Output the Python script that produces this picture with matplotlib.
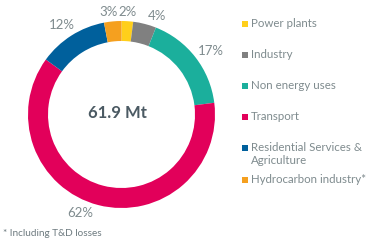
import matplotlib.pyplot as plt
from matplotlib.patches import Rectangle

# ---- Data ----
categories = ['Power plants', 'Industry', 'Non energy uses', 'Transport',
              'Residential Services &\nAgriculture', 'Hydrocarbon industry*']
shares = [2, 4, 17, 62, 12, 3]
colors = ['#FFCF1B', '#808080', '#1BAF9C', '#E2005A', '#00609C', '#F5A01F']
total_label = '61.9 Mt'
footnote = '* Including T&D losses'

W, H = 378, 246
fig = plt.figure(figsize=(W / 100, H / 100), dpi=100)
ax = fig.add_axes([0, 0, 1, 1])

cx, cy, r = 121.5, H - 114.5, 93.5
ax.pie(shares, colors=colors, startangle=90, counterclock=False,
       center=(cx, cy), radius=r,
       wedgeprops=dict(width=20, edgecolor='none'), frame=True)
ax.set_xlim(0, W)
ax.set_ylim(0, H)
ax.axis('off')

txt_color = '#7F8B8E'
font = 'Lato'

# percentage labels (pixel positions)
label_pos = [(128, 12), (157, 16), (211, 51), (80, 213), (62, 25), (109, 12)]
for s, (x, y) in zip(shares, label_pos):
    ax.text(x, H - y, f"{s}%", ha='center', va='center', fontsize=9.5,
            color=txt_color, family=font)

ax.text(cx - 4, cy + 2, total_label, ha='center', va='center', fontsize=12,
        fontweight='bold', color='#4B5A63', family=font)

# legend
rows = [24, 55, 86, 117, 148, 180]
for cat, col, y in zip(categories, colors, rows):
    ax.add_patch(Rectangle((242, H - y - 3), 6, 6, color=col, lw=0))
    ax.text(251, H - y + 6, cat, ha='left', va='top', fontsize=8.3,
            color=txt_color, family=font, linespacing=1.2)

ax.text(3, H - 233, footnote, ha='left', va='center', fontsize=7.2,
        color='#6E7B80', family=font)

fig.savefig('out.png', dpi=100)
